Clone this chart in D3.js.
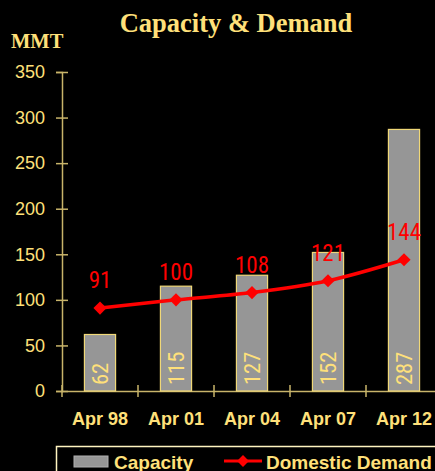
<!DOCTYPE html>
<html>
<head>
<meta charset="utf-8">
<script src="https://cdn.jsdelivr.net/npm/d3@7"></script>
<style>
  body { margin: 0; background: #000; }
  svg { display: block; }
</style>
</head>
<body>
<svg id="chart"></svg>
<script>
// chart data
const categories = ["Apr 98", "Apr 01", "Apr 04", "Apr 07", "Apr 12"];
const capacity = [62, 115, 127, 152, 287];
const demand = [91, 100, 108, 121, 144];
const yTicks = [0, 50, 100, 150, 200, 250, 300, 350];

const width = 435;
const height = 471;
const yellow = "#FFE07A";
const axisColor = "#C8B46A";
const narrow = "'Liberation Sans Narrow', 'Arial Narrow', 'Roboto Condensed', sans-serif";

const svg = d3.select("#chart").attr("width", width).attr("height", height);
svg.append("rect").attr("width", width).attr("height", height).attr("fill", "#000");

// scales
let x = d3.scaleBand().domain(categories).range([62, 442]);
let y = d3.scaleLinear().domain([0, 350]).range([391, 72]);

// title
svg.append("text")
  .attr("x", 236).attr("y", 32)
  .attr("text-anchor", "middle")
  .attr("font-family", "'Liberation Serif', 'Times New Roman', serif")
  .attr("font-weight", "bold").attr("font-size", 26.5)
  .attr("fill", yellow)
  .text("Capacity & Demand");

svg.append("text")
  .attr("x", 11).attr("y", 48)
  .attr("font-family", "'Liberation Serif', 'Times New Roman', serif")
  .attr("font-weight", "bold").attr("font-size", 20.5)
  .attr("fill", yellow)
  .text("MMT");

// y axis
const yAxis = svg.append("g")
  .attr("transform", "translate(62,0)")
  .call(d3.axisLeft(y).tickValues(yTicks).tickSize(6).tickPadding(11));
yAxis.select(".domain").attr("stroke", axisColor).attr("stroke-width", 1.5);
yAxis.selectAll(".tick line").attr("stroke", axisColor).attr("stroke-width", 1.5).attr("x2", 6).attr("x1", -6);
yAxis.selectAll(".tick text")
  .attr("fill", yellow).attr("font-size", 18)
  .attr("font-family", "'Liberation Sans', Arial, sans-serif");

// x axis
const xAxis = svg.append("g")
  .attr("transform", "translate(0,391)")
  .call(d3.axisBottom(x).tickSize(0).tickPadding(21));
xAxis.select(".domain").attr("stroke", axisColor).attr("stroke-width", 1.5);
xAxis.selectAll(".tick text")
  .attr("fill", yellow).attr("font-size", 18).attr("font-weight", "bold")
  .attr("font-family", "'Liberation Sans', Arial, sans-serif");
// category separators
svg.append("g")
  .selectAll("line")
  .data(categories)
  .enter()
  .append("line")
  .attr("x1", (d) => x(d)).attr("x2", (d) => x(d))
  .attr("y1", 385).attr("y2", 397)
  .attr("stroke", axisColor).attr("stroke-width", 1.5);

// bars
const barW = x.bandwidth() * 0.41;
svg.append("g")
  .selectAll("rect")
  .data(capacity)
  .enter()
  .append("rect")
  .attr("x", (d, i) => x(categories[i]) + x.bandwidth() / 2 - barW / 2)
  .attr("y", (d) => y(d))
  .attr("width", barW)
  .attr("height", (d) => y(0) - y(d))
  .attr("fill", "#969696")
  .attr("stroke", "#F0D878")
  .attr("stroke-width", 1.2);

// bar value labels (rotated)
svg.append("g")
  .selectAll("text")
  .data(capacity)
  .enter()
  .append("text")
  .attr("transform", (d, i) => `translate(${x(categories[i]) + x.bandwidth() / 2 + 8},385) rotate(-90)`)
  .attr("font-family", narrow)
  .attr("font-size", 22.5)
  .attr("fill", yellow)
  .text((d) => d);

// demand line
const cx = (i) => x(categories[i]) + x.bandwidth() / 2;
const line = d3.line()
  .x((d, i) => cx(i))
  .y((d) => y(d))
  .curve(d3.curveMonotoneX);
svg.append("path")
  .datum(demand)
  .attr("d", line)
  .attr("fill", "none")
  .attr("stroke", "#FF0000")
  .attr("stroke-width", 3.5);

svg.append("g")
  .selectAll("path")
  .data(demand)
  .enter()
  .append("path")
  .attr("d", d3.symbol(d3.symbolDiamond2, 110))
  .attr("transform", (d, i) => `translate(${cx(i)},${y(d)})`)
  .attr("fill", "#FF0000");

svg.append("g")
  .selectAll("text")
  .data(demand)
  .enter()
  .append("text")
  .attr("x", (d, i) => cx(i))
  .attr("y", (d) => y(d) - 20)
  .attr("text-anchor", "middle")
  .attr("font-family", narrow)
  .attr("font-size", 23)
  .attr("fill", "#FF0000")
  .text((d) => d);

// legend
const legend = svg.append("g");
legend.append("rect")
  .attr("x", 56.5).attr("y", 446.5)
  .attr("width", 400).attr("height", 40)
  .attr("fill", "#000")
  .attr("stroke", "#FFF4C0").attr("stroke-width", 1.5);
legend.append("rect")
  .attr("x", 74).attr("y", 456).attr("width", 34).attr("height", 11)
  .attr("fill", "#969696").attr("stroke", "#B0B0B0");
legend.append("text")
  .attr("x", 114).attr("y", 469)
  .attr("font-family", "'Liberation Sans', Arial, sans-serif")
  .attr("font-weight", "bold").attr("font-size", 19)
  .attr("fill", yellow)
  .text("Capacity");
legend.append("line")
  .attr("x1", 224).attr("x2", 262).attr("y1", 461).attr("y2", 461)
  .attr("stroke", "#FF0000").attr("stroke-width", 3);
legend.append("path")
  .attr("d", d3.symbol(d3.symbolDiamond2, 90))
  .attr("transform", "translate(243,461)")
  .attr("fill", "#FF0000");
legend.append("text")
  .attr("x", 266).attr("y", 469)
  .attr("font-family", "'Liberation Sans', Arial, sans-serif")
  .attr("font-weight", "bold").attr("font-size", 19)
  .attr("fill", yellow)
  .text("Domestic Demand");
</script>
</body>
</html>
